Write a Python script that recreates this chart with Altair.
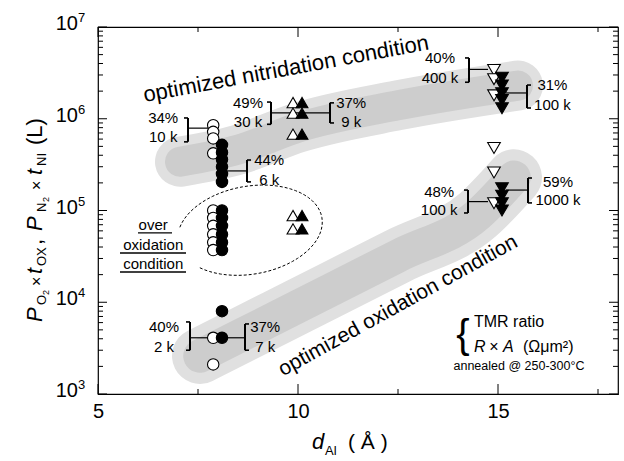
import math
import altair as alt
import pandas as pd

FONT = "Liberation Sans"
W, H = 520, 367

# ---------------- data ----------------
circ_open_x = 7.88
circ_open_y = [8.5e5, 7.2e5, 6.1e5, 4.2e5,
               1.0e5, 8.3e4, 6.8e4, 5.5e4, 4.5e4, 3.7e4,
               4.1e3, 2.1e3]
circ_fill_x = 8.1
circ_fill_y = [5.2e5, 4.3e5, 3.6e5, 3.0e5, 2.5e5, 2.05e5,
               1.0e5, 8.3e4, 6.8e4, 5.5e4, 4.5e4, 3.7e4,
               8.0e3, 4.1e3]
up_open_x = 9.875
up_open_y = [1.5e6, 1.15e6, 6.8e5, 8.8e4, 6.3e4]
up_fill_x = 10.1
up_fill_y = [1.5e6, 1.15e6, 6.8e5, 8.8e4, 6.3e4]
dn_open_x = 14.9
dn_open_y = [3.4e6, 2.7e6, 1.8e6, 4.8e5, 2.6e5, 1.2e5]
dn_fill_x = 15.1
dn_fill_y = [2.8e6, 2.3e6, 1.9e6, 1.6e6, 1.3e6,
             1.75e5, 1.45e5, 1.2e5, 1.0e5]

# shaded guide bands (centre lines)
band_up_x = [7.05, 8.5, 10.0, 12.5, 15.5]
band_up_y = [3.4e5, 4.6e5, 8.0e5, 1.4e6, 2.3e6]
band_lo_x = [7.55, 8.5, 10.0, 12.5, 14.5, 15.4]
band_lo_y = [2.6e3, 4.2e3, 9.0e3, 3.2e4, 9.0e4, 2.3e5]

# annotation labels (x, y, text)
ann_x = [6.63, 6.63, 8.75, 8.75, 11.33, 11.33, 9.28, 9.28,
         13.55, 13.55, 16.36, 16.36, 13.53, 13.53, 16.5, 16.5,
         6.65, 6.65, 9.18, 9.18]
ann_y = [1.02e6, 6.3e5, 1.49e6, 9.2e5, 1.49e6, 9.2e5, 3.55e5, 2.15e5,
         4.6e6, 2.78e6, 2.33e6, 1.41e6, 1.59e5, 1.01e5, 2.05e5, 1.3e5,
         5.37e3, 3.25e3, 5.37e3, 3.25e3]
ann_t = ["34%", "10 k", "49%", "30 k", "37%", "9 k", "44%", "6 k",
         "40%", "400 k", "31%", "100 k", "48%", "100 k", "59%", "1000 k",
         "40%", "2 k", "37%", "7 k"]

# brackets: x, top, bottom, hook direction (-1 = "]", +1 = "[")
br_x = [7.25, 9.325, 10.8, 8.725, 14.275, 15.725, 14.25, 15.75, 7.3, 8.675]
br_top = [1.02e6, 1.52e6, 1.49e6, 3.55e5, 4.6e6, 2.33e6, 1.67e5, 2.26e5, 6.1e3, 5.8e3]
br_bot = [5.6e5, 8.7e5, 9.0e5, 2.05e5, 2.5e6, 1.31e6, 9.4e4, 1.21e5, 3.0e3, 3.0e3]
br_dir = [-1, -1, 1, 1, -1, 1, -1, 1, -1, 1]

# connector lines: x1, x2, y
con_x1 = [7.25, 9.325, 8.2, 14.275, 15.2, 14.25, 15.2, 7.3, 8.2]
con_x2 = [7.75, 10.8, 8.725, 14.75, 15.725, 14.75, 15.75, 7.75, 8.675]
con_y = [7.9e5, 1.16e6, 2.7e5, 3.45e6, 1.91e6, 1.25e5, 1.67e5, 4.1e3, 4.1e3]

# "over oxidation condition" label
over_x = 6.38
over_y = [6.95e4, 4.2e4, 2.6e4]
over_t = ["over", "oxidation", "condition"]
over_ul_x1 = [6.0, 5.55, 5.55]
over_ul_x2 = [6.85, 7.2, 7.2]
over_ul_y = [5.7e4, 3.44e4, 2.14e4]

# dashed ellipse centre
ell_x, ell_y = 8.8, 6.1e4

# axis ticks
ytick_major = [1e3, 1e4, 1e5, 1e6, 1e7]
ytick_minor = [m * 10 ** e for e in range(3, 7) for m in range(2, 10)]
ytick_exp = ["3", "4", "5", "6", "7"]
xtick_major = [5, 10, 15]
xtick_minor = [7.5, 12.5, 17.5]

# ---------------- scales / helpers ----------------
xs = alt.Scale(domain=[5, 18], nice=False, zero=False)
ys = alt.Scale(type="log", domain=[1e3, 1e7], nice=False)
x_axis = alt.Axis(values=xtick_major, domain=False, ticks=False, grid=False,
                  labelFontSize=20, labelFont=FONT, labelColor="black",
                  labelPadding=7, labelFlush=False, title=None)


def X(f="x"):
    return alt.X(f"{f}:Q", scale=xs, axis=x_axis)


def Y(f="y"):
    return alt.Y(f"{f}:Q", scale=ys, axis=None)


one = pd.DataFrame({"k": [0]})


def txt(s, x, y, size, angle=0, italic=False, align="left", baseline="alphabetic"):
    kw = dict(text=s, fontSize=size, font=FONT, color="black", align=align, baseline=baseline)
    if angle:
        kw["angle"] = angle
    if italic:
        kw["fontStyle"] = "italic"
    return alt.Chart(one).mark_text(**kw).encode(x=alt.value(x), y=alt.value(y))


def pts(xv, yv, shape, filled, size):
    df = pd.DataFrame({"x": [xv] * len(yv), "y": yv})
    return alt.Chart(df).mark_point(
        shape=shape, filled=True, size=size, opacity=1,
        fill="black" if filled else "white", stroke="black", strokeWidth=1.1
    ).encode(x=X(), y=Y())


layers = []

# bands
for bx, by, wide in [(band_up_x, band_up_y, 50), (band_lo_x, band_lo_y, 56)]:
    df = pd.DataFrame({"x": bx, "y": by})
    layers.append(alt.Chart(df).mark_line(strokeWidth=wide, strokeCap="round", strokeJoin="round",
                                          interpolate="monotone", color="#e0e0e0")
                  .encode(x=X(), y=Y()))
    layers.append(alt.Chart(df).mark_line(strokeWidth=wide * 0.6, strokeCap="round", strokeJoin="round",
                                          interpolate="monotone", color="#cdcdcd")
                  .encode(x=X(), y=Y()))

# dashed ellipse as custom symbol
a_px, b_px, phi = 73.0, 44.0, math.radians(-10)
coords = []
for deg in range(200, 501, 5):
    t = math.radians(deg)
    ex, ey = math.cos(t), (b_px / a_px) * math.sin(t)
    rx = ex * math.cos(phi) - ey * math.sin(phi)
    ry = ex * math.sin(phi) + ey * math.cos(phi)
    coords.append(f"{rx:.4f},{ry:.4f}")
ell_path = "M" + " L".join(coords)
layers.append(alt.Chart(pd.DataFrame({"x": [ell_x], "y": [ell_y]})).mark_point(
    shape=ell_path, size=(2 * a_px) ** 2, filled=False, stroke="black",
    strokeWidth=1, strokeDash=[3, 2], opacity=1).encode(x=X(), y=Y()))

# connectors
con_df = pd.DataFrame({"x": con_x1, "x2": con_x2, "y": con_y})
layers.append(alt.Chart(con_df).mark_rule(color="black", strokeWidth=1.2)
              .encode(x=X(), x2="x2:Q", y=Y()))

# brackets
brv = pd.DataFrame({"x": br_x, "y": br_top, "y2": br_bot})
layers.append(alt.Chart(brv).mark_rule(color="black", strokeWidth=2)
              .encode(x=X(), y=Y(), y2="y2:Q"))
hk_x, hk_x2, hk_y = [], [], []
for bx, bt, bb, d in zip(br_x, br_top, br_bot, br_dir):
    for yy in (bt, bb):
        hk_x.append(bx)
        hk_x2.append(bx + d * 0.1)
        hk_y.append(yy)
layers.append(alt.Chart(pd.DataFrame({"x": hk_x, "x2": hk_x2, "y": hk_y}))
              .mark_rule(color="black", strokeWidth=1.6).encode(x=X(), x2="x2:Q", y=Y()))

# markers
layers.append(pts(circ_open_x, circ_open_y, "circle", False, 130))
layers.append(pts(circ_fill_x, circ_fill_y, "circle", True, 130))
layers.append(pts(up_open_x, up_open_y, "triangle-up", False, 140))
layers.append(pts(up_fill_x, up_fill_y, "triangle-up", True, 140))
layers.append(pts(dn_open_x, dn_open_y, "triangle-down", False, 160))
layers.append(pts(dn_fill_x, dn_fill_y, "triangle-down", True, 160))

# annotation text
ann_df = pd.DataFrame({"x": ann_x, "y": ann_y, "t": ann_t})
layers.append(alt.Chart(ann_df).mark_text(font=FONT, fontSize=15, color="black",
                                          align="center", baseline="middle")
              .encode(x=X(), y=Y(), text="t:N"))

# over oxidation condition
ov_df = pd.DataFrame({"x": [over_x] * 3, "y": over_y, "t": over_t})
layers.append(alt.Chart(ov_df).mark_text(font=FONT, fontSize=15, color="black",
                                         align="center", baseline="middle")
              .encode(x=X(), y=Y(), text="t:N"))
ul_df = pd.DataFrame({"x": over_ul_x1, "x2": over_ul_x2, "y": over_ul_y})
layers.append(alt.Chart(ul_df).mark_rule(color="black", strokeWidth=1.4)
              .encode(x=X(), x2="x2:Q", y=Y()))

# band captions
cap_df = pd.DataFrame({"x": [9.7], "y": [3.5e6], "t": ["optimized nitridation condition"]})
layers.append(alt.Chart(cap_df).mark_text(font=FONT, fontSize=22, color="black", angle=349.5,
                                          align="center", baseline="middle")
              .encode(x=X(), y=Y(), text="t:N"))
cap2_df = pd.DataFrame({"x": [12.5], "y": [9.1e3], "t": ["optimized oxidation condition"]})
layers.append(alt.Chart(cap2_df).mark_text(font=FONT, fontSize=21, color="black", angle=331,
                                           align="center", baseline="middle")
              .encode(x=X(), y=Y(), text="t:N"))

# axis ticks (inward)
for vals, ln in [(ytick_major, 9), (ytick_minor, 5)]:
    df = pd.DataFrame({"y": vals})
    layers.append(alt.Chart(df).mark_rule(color="black", strokeWidth=1)
                  .encode(y=Y(), x=alt.value(0), x2=alt.value(ln)))
    layers.append(alt.Chart(df).mark_rule(color="black", strokeWidth=1)
                  .encode(y=Y(), x=alt.value(W), x2=alt.value(W - ln)))
for vals, ln in [(xtick_major, 10), (xtick_minor, 5)]:
    df = pd.DataFrame({"x": vals})
    layers.append(alt.Chart(df).mark_rule(color="black", strokeWidth=1)
                  .encode(x=X(), y=alt.value(H), y2=alt.value(H - ln)))
    layers.append(alt.Chart(df).mark_rule(color="black", strokeWidth=1)
                  .encode(x=X(), y=alt.value(0), y2=alt.value(ln)))

# y tick labels 10^n
yl_df = pd.DataFrame({"y": ytick_major, "e": ytick_exp})
layers.append(alt.Chart(yl_df).mark_text(text="10", font=FONT, fontSize=20, color="black",
                                         align="right", baseline="middle", dy=-3)
              .encode(y=Y(), x=alt.value(-20)))
layers.append(alt.Chart(yl_df).mark_text(font=FONT, fontSize=13, color="black",
                                         align="left", baseline="middle", dy=-9)
              .encode(y=Y(), x=alt.value(-20), text="e:N"))

# y axis title (rotated pieces)
MX, SX, SSX = -56, -52, -49
layers += [
    txt("P", MX, 295, 22, 270, True),
    txt("O", SX, 278, 13, 270),
    txt("2", SSX, 268, 9, 270),
    txt("×", MX, 259, 16, 270),
    txt("t", MX, 247, 22, 270, True),
    txt("OX", SX, 239, 13, 270),
    txt(",", MX, 218, 22, 270),
    txt("P", MX, 204, 22, 270, True),
    txt("N", SX, 185, 13, 270),
    txt("2", SSX, 175, 9, 270),
    txt("×", MX, 163, 16, 270),
    txt("t", MX, 148, 22, 270, True),
    txt("NI", SX, 139, 13, 270),
    txt("(L)", MX, 118, 22, 270),
]

# x axis title
layers += [
    txt("d", 214, 422, 22, italic=True),
    txt("Al", 227, 428, 13),
    txt("( Å )", 250, 422, 21),
]

# legend box bottom-right
layers += [
    txt("{", 365, 309, 40, align="center", baseline="middle"),
    txt("TMR ratio", 376, 295, 16, baseline="middle"),
    txt("R", 376, 320, 16, italic=True, baseline="middle"),
    txt("×", 396, 320, 16, align="center", baseline="middle"),
    txt("A", 405, 320, 16, italic=True, baseline="middle"),
    txt("(Ωμm²)", 425, 320, 16, baseline="middle"),
    txt("annealed @ 250-300°C", 421, 339, 12.5, align="center", baseline="middle"),
]

chart = alt.layer(*layers).properties(
    width=W, height=H,
    padding={"left": 98, "top": 27, "right": 6, "bottom": 67},
    autosize=alt.AutoSizeParams(type="none"),
    background="white",
).configure_view(stroke="black", strokeWidth=1.2)

chart.save("out.html", embed_options={"renderer": "svg", "actions": False})
